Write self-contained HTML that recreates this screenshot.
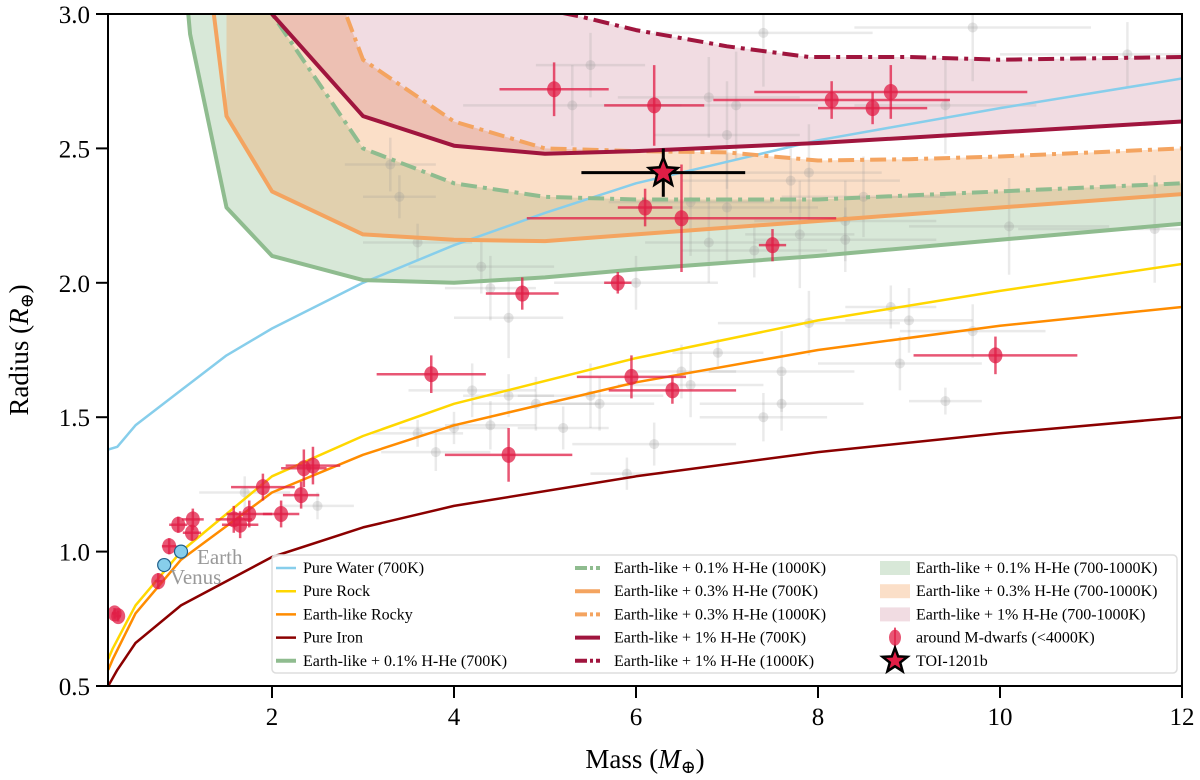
<!DOCTYPE html>
<html><head><meta charset="utf-8"><style>
body{margin:0;background:#fff;}
svg{display:block;font-family:"Liberation Serif","DejaVu Serif",serif;}
</style></head><body>
<svg id="chart" width="1200" height="780" viewBox="0 0 1200 780">
<defs><clipPath id="clip"><rect x="108" y="14" width="1074" height="672"/></clipPath></defs>
<g id="plot" clip-path="url(#clip)"></g>
<g id="axes"></g>
<g id="legend"></g>
</svg>
<script>
const xTicks=[2,4,6,8,10,12];
const yTicks=[0.5,1.0,1.5,2.0,2.5,3.0];
const waterM=[0.2,0.3,0.5,1,1.5,2,3,4,5,6,7,8,10,12];
const waterR=[1.38,1.39,1.47,1.6,1.73,1.83,2.0,2.14,2.26,2.37,2.45,2.53,2.65,2.76];
const rockM=[0.2,0.25,0.5,1,2,3,4,6,8,10,12];
const rockR=[0.6,0.64,0.8,1.0,1.28,1.43,1.55,1.72,1.86,1.97,2.07];
const earthM=[0.2,0.25,0.5,1,2,3,4,6,8,10,12];
const earthR=[0.56,0.6,0.77,0.97,1.22,1.36,1.47,1.63,1.75,1.84,1.91];
const ironM=[0.2,0.3,0.5,1,2,3,4,6,8,10,12];
const ironR=[0.5,0.56,0.66,0.8,0.98,1.09,1.17,1.28,1.37,1.44,1.5];
const g7M=[1.0,1.1,1.5,2,3,4,5,6,8,10,12];
const g7R=[3.3,2.925,2.28,2.1,2.01,2.0,2.02,2.05,2.1,2.16,2.22];
const g10M=[1.7,2,3,4,5,6,8,10,12];
const g10R=[3.3,3.0,2.5,2.37,2.32,2.31,2.31,2.34,2.37];
const o7M=[1.25,1.5,2,3,4,5,6,8,10,12];
const o7R=[3.3,2.62,2.34,2.18,2.16,2.155,2.18,2.23,2.28,2.33];
const o10M=[2.7,3,4,5,6,7,8,9,10,12];
const o10R=[3.1,2.83,2.6,2.5,2.49,2.485,2.455,2.46,2.47,2.5];
const c7M=[1.85,2,3,4,5,6,8,10,12];
const c7R=[3.2,3.0,2.62,2.51,2.48,2.49,2.52,2.56,2.6];
const c10M=[4.5,5.4,6,7,7.9,9,10,12];
const c10R=[3.05,2.99,2.94,2.88,2.84,2.84,2.83,2.84];
const grayM=[3.3,3.4,3.6,4.3,4.4,4.6,4.6,4.2,3.6,3.8,4.0,4.4,4.9,5.2,5.5,5.6,5.9,6.2,6.5,6.6,6.9,7.4,7.6,7.9,7.6,8.9,9.0,9.4,9.7,8.8,6.0,6.8,7.0,7.3,7.7,7.8,8.3,8.5,8.3,7.0,7.1,5.5,6.8,7.4,9.7,9.4,11.4,11.7,10.1,2.5,1.7,5.3,6.6,7.9];
const grayR=[2.44,2.32,2.15,2.06,1.98,1.87,1.58,1.6,1.44,1.37,1.46,1.47,1.55,1.46,1.58,1.55,1.29,1.4,1.67,1.62,1.74,1.5,1.55,1.85,1.67,1.7,1.86,1.56,1.82,1.91,2.0,2.15,2.28,2.12,2.38,2.18,2.23,2.32,2.16,2.55,2.66,2.81,2.69,2.93,2.95,2.66,2.85,2.2,2.21,1.17,1.22,2.66,2.3,2.41];
const grayME=[0.5,0.4,0.6,0.8,0.5,0.6,0.5,0.7,0.5,0.6,0.6,0.5,0.7,0.5,0.8,0.6,0.4,0.9,0.6,0.8,0.5,0.7,0.9,1.0,0.8,0.9,0.7,0.4,0.8,0.5,0.9,0.7,1.0,0.8,1.2,0.6,1.0,0.9,1.0,0.8,0.9,0.6,1.0,1.2,1.3,1.0,1.4,1.5,1.1,0.4,0.5,1.2,0.9,0.8];
const grayRE=[0.1,0.08,0.07,0.1,0.12,0.15,0.08,0.1,0.05,0.07,0.06,0.09,0.1,0.08,0.12,0.1,0.06,0.08,0.1,0.12,0.05,0.09,0.1,0.12,0.15,0.1,0.12,0.05,0.1,0.08,0.1,0.15,0.2,0.1,0.12,0.2,0.15,0.15,0.12,0.2,0.2,0.12,0.15,0.2,0.2,0.18,0.12,0.2,0.18,0.05,0.06,0.15,0.2,0.18];
const redM=[0.27,0.31,0.75,0.87,0.97,1.12,1.13,1.58,1.65,1.75,1.9,2.1,2.32,2.35,2.45,3.75,4.6,4.75,5.1,5.8,5.95,6.1,6.2,6.4,6.5,7.5,8.15,8.6,8.8,9.95];
const redR=[0.77,0.76,0.89,1.02,1.1,1.07,1.12,1.12,1.1,1.14,1.24,1.14,1.21,1.31,1.32,1.66,1.36,1.96,2.72,2.0,1.65,2.28,2.66,1.6,2.24,2.14,2.68,2.65,2.71,1.73];
const redME=[0.03,0.03,0.04,0.08,0.1,0.1,0.12,0.2,0.2,0.25,0.35,0.2,0.2,0.25,0.3,0.6,0.7,0.4,0.6,0.15,0.6,0.3,0.55,0.7,1.7,0.15,1.3,0.6,1.5,0.9];
const redRE=[0.02,0.02,0.03,0.03,0.03,0.03,0.04,0.05,0.05,0.05,0.05,0.05,0.05,0.07,0.07,0.07,0.1,0.06,0.1,0.04,0.08,0.07,0.15,0.05,0.2,0.06,0.07,0.06,0.1,0.07];
const toiM=[6.3], toiR=[2.41], toiME=[0.9], toiRE=[0.09];
const ssNames=["Earth","Venus"], ssM=[1.0,0.815], ssR=[1.0,0.95];

const NS="http://www.w3.org/2000/svg";
const X=m=>90+91*m;
const Y=r=>14+(3.0-r)*268.8;
function mk(tag,attrs,parent){const e=document.createElementNS(NS,tag);for(const k in attrs)e.setAttribute(k,attrs[k]);parent.appendChild(e);return e;}
const plot=document.getElementById('plot'),axes=document.getElementById('axes'),leg=document.getElementById('legend');
function pts(M,R){return M.map((m,i)=>X(m).toFixed(1)+','+Y(R[i]).toFixed(1)).join(' ');}
function band(M1,R1,M2,R2,fill,name){
  const p=pts(M1,R1)+' '+M2.slice().reverse().map((m,i)=>{const j=M2.length-1-i;return X(m).toFixed(1)+','+Y(R2[j]).toFixed(1);}).join(' ');
  const e=mk('polygon',{points:p,fill:fill,stroke:'none'},plot);
  
  
}
band(g7M,g7R,g10M,g10R,'rgba(143,188,143,0.35)','band-0p1-hhe');
band([1.5].concat(o7M.slice(1)),[3.3].concat(o7R.slice(1)),o10M,o10R,'rgba(244,164,96,0.35)','band-0p3-hhe');
band(c7M,c7R,[3.0].concat(c10M),[3.3].concat(c10R),'rgba(160,20,60,0.15)','band-1-hhe');
for(let i=0;i<grayM.length;i++){
  const g=mk('g',{},plot);
  
  
  mk('line',{x1:X(grayM[i]-grayME[i]),x2:X(grayM[i]+grayME[i]),y1:Y(grayR[i]),y2:Y(grayR[i]),stroke:'rgba(150,150,150,0.2)','stroke-width':2.5},g);
  mk('line',{x1:X(grayM[i]),x2:X(grayM[i]),y1:Y(grayR[i]-grayRE[i]),y2:Y(grayR[i]+grayRE[i]),stroke:'rgba(150,150,150,0.2)','stroke-width':2.5},g);
  mk('circle',{cx:X(grayM[i]),cy:Y(grayR[i]),r:5,fill:'rgba(150,150,150,0.25)'},g);
}
function line(M,R,color,w,dash,name){
  const e=mk('polyline',{points:pts(M,R),fill:'none',stroke:color,'stroke-width':w,'stroke-linejoin':'round'},plot);
  if(dash)e.setAttribute('stroke-dasharray',dash);
  
  
}
line(waterM,waterR,'#87ceeb',2.5,null,'pure-water-line');
line(rockM,rockR,'#ffd700',2.5,null,'pure-rock-line');
line(earthM,earthR,'#ff8c00',2.5,null,'earth-like-rocky-line');
line(ironM,ironR,'#8b0000',2.5,null,'pure-iron-line');
line(g7M,g7R,'#8fbc8f',4,null,'earth-0p1-700k-line');
line(g10M,g10R,'#8fbc8f',4,'16,6,4,6','earth-0p1-1000k-line');
line(o7M,o7R,'#f4a460',4,null,'earth-0p3-700k-line');
line(o10M,o10R,'#f4a460',4,'16,6,4,6','earth-0p3-1000k-line');
line(c7M,c7R,'#a0153e',4,null,'earth-1-700k-line');
line(c10M,c10R,'#a0153e',4,'16,6,4,6','earth-1-1000k-line');
for(let i=0;i<redM.length;i++){
  const g=mk('g',{},plot);
  
  
  mk('line',{x1:X(redM[i]-redME[i]),x2:X(redM[i]+redME[i]),y1:Y(redR[i]),y2:Y(redR[i]),stroke:'rgba(224,30,70,0.75)','stroke-width':2.5},g);
  mk('line',{x1:X(redM[i]),x2:X(redM[i]),y1:Y(redR[i]-redRE[i]),y2:Y(redR[i]+redRE[i]),stroke:'rgba(224,30,70,0.75)','stroke-width':2.5},g);
  mk('ellipse',{cx:X(redM[i]),cy:Y(redR[i]),rx:7,ry:8,fill:'rgba(224,30,70,0.75)'},g);
}
for(let i=0;i<ssM.length;i++){
  const c=mk('circle',{cx:X(ssM[i]),cy:Y(ssR[i]),r:6.5,fill:'#87ceeb',stroke:'#1f5f8b','stroke-width':1.2},plot);
  
  
}
function star(cx,cy,R,r){let p=[];for(let k=0;k<10;k++){const a=-Math.PI/2+k*Math.PI/5;const rr=k%2?r:R;p.push((cx+rr*Math.cos(a)).toFixed(1)+','+(cy+rr*Math.sin(a)).toFixed(1));}return p.join(' ');}
const tg=mk('g',{},plot);


mk('line',{x1:X(toiM[0]-toiME[0]),x2:X(toiM[0]+toiME[0]),y1:Y(toiR[0]),y2:Y(toiR[0]),stroke:'#000','stroke-width':3},tg);
mk('line',{x1:X(toiM[0]),x2:X(toiM[0]),y1:Y(toiR[0]-toiRE[0]),y2:Y(toiR[0]+toiRE[0]),stroke:'#000','stroke-width':3},tg);
mk('polygon',{points:star(X(toiM[0]),Y(toiR[0]),15,6.5),fill:'#e01e46',stroke:'#000','stroke-width':2.5},tg);
const eL=mk('text',{x:197,y:564,'font-size':21,fill:'#999'},axes);eL.textContent='Earth';


const vL=mk('text',{x:170,y:584,'font-size':21,fill:'#999'},axes);vL.textContent='Venus';


const fr=mk('rect',{x:108,y:14,width:1074,height:672,fill:'none',stroke:'#000','stroke-width':2},axes);


xTicks.forEach(t=>{
  const l=mk('line',{x1:X(t),x2:X(t),y1:686,y2:698,stroke:'#000','stroke-width':2},axes);
  
  
  const tx=mk('text',{x:X(t),y:725,'font-size':25,'text-anchor':'middle'},axes);tx.textContent=String(t);
  
  
});
yTicks.forEach(t=>{
  const l=mk('line',{x1:96,x2:108,y1:Y(t),y2:Y(t),stroke:'#000','stroke-width':2},axes);
  
  
  const tx=mk('text',{x:90,y:Y(t)+9,'font-size':25,'text-anchor':'end'},axes);tx.textContent=t.toFixed(1);
  
  
});
const xl=mk('text',{x:645,y:768,'font-size':27,'text-anchor':'middle'},axes);
xl.innerHTML='Mass (<tspan font-style="italic">M</tspan><tspan font-size="18" dy="5">⊕</tspan><tspan dy="-5">)</tspan>';


const yl=mk('text',{x:0,y:0,'font-size':27,'text-anchor':'middle',transform:'translate(28,350) rotate(-90)'},axes);
yl.innerHTML='Radius (<tspan font-style="italic">R</tspan><tspan font-size="18" dy="5">⊕</tspan><tspan dy="-5">)</tspan>';


const lb=mk('rect',{x:272,y:555,width:905,height:118,rx:4,fill:'rgba(255,255,255,0.85)',stroke:'#ddd','stroke-width':1.5},leg);


const legText=[
 ['Pure Water (700K)','Pure Rock','Earth-like Rocky','Pure Iron','Earth-like + 0.1% H-He (700K)'],
 ['Earth-like + 0.1% H-He (1000K)','Earth-like + 0.3% H-He (700K)','Earth-like + 0.3% H-He (1000K)','Earth-like + 1% H-He (700K)','Earth-like + 1% H-He (1000K)'],
 ['Earth-like + 0.1% H-He (700-1000K)','Earth-like + 0.3% H-He (700-1000K)','Earth-like + 1% H-He (700-1000K)','around M-dwarfs (<4000K)','TOI-1201b']];
const legCol=[['#87ceeb','#ffd700','#ff8c00','#8b0000','#8fbc8f'],['#8fbc8f','#f4a460','#f4a460','#a0153e','#a0153e'],['rgba(143,188,143,0.35)','rgba(244,164,96,0.35)','rgba(160,20,60,0.15)','','']];
const colX=[276,572,878], txtX=[303,614,916];
for(let c=0;c<3;c++)for(let r=0;r<5;r++){
  const y=568+r*23.2;
  const g=mk('g',{},leg);
  
  
  if(c===0)mk('line',{x1:colX[c],x2:colX[c]+20,y1:y,y2:y,stroke:legCol[c][r],'stroke-width':r===4?4:2.5},g);
  else if(c===1){const l=mk('line',{x1:colX[c]+3,x2:colX[c]+28,y1:y,y2:y,stroke:legCol[c][r],'stroke-width':4},g);if(r%2===0)l.setAttribute('stroke-dasharray','12,3,3,3');}
  else if(r<3)mk('rect',{x:colX[c]+2,y:y-7,width:30,height:14,fill:legCol[c][r]},g);
  else if(r===3){mk('ellipse',{cx:colX[c]+17,cy:y,rx:6,ry:8,fill:'rgba(224,30,70,0.75)'},g);mk('line',{x1:colX[c]+17,x2:colX[c]+17,y1:y-10,y2:y+10,stroke:'rgba(224,30,70,0.75)','stroke-width':2},g);}
  else mk('polygon',{points:star(colX[c]+17,y,13,5.5),fill:'#e01e46',stroke:'#000','stroke-width':2.5},g);
  const t=mk('text',{x:txtX[c],y:y+5,'font-size':16},g);t.textContent=legText[c][r];
}
</script>
</body></html>
